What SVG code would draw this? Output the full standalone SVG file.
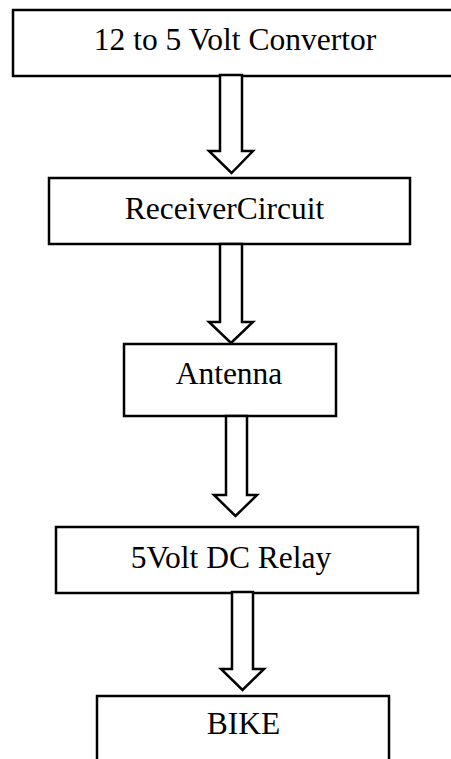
<svg xmlns="http://www.w3.org/2000/svg" width="451" height="759" viewBox="0 0 451 759">
<style>
.box{fill:#fff;stroke:#000;stroke-width:2.5}
.arr{fill:#fff;stroke:#000;stroke-width:2.5;stroke-linejoin:miter}
.lbl{font-family:"Liberation Serif","Times New Roman",serif;font-size:31.5px;fill:#000;text-anchor:middle}
</style>
<rect width="451" height="759" fill="#fff"/>
<g id="n1"><rect class="box" x="13" y="10" width="450" height="66"/><text class="lbl" x="235" y="50">12 to 5 Volt Convertor</text></g>
<g id="n2"><rect class="box" x="49" y="178" width="361" height="66"/><text class="lbl" x="224.5" y="219">ReceiverCircuit</text></g>
<g id="n3"><rect class="box" x="124" y="344" width="212" height="72"/><text class="lbl" x="229" y="384">Antenna</text></g>
<g id="n4"><rect class="box" x="56" y="527" width="362" height="66"/><text class="lbl" x="231" y="568">5Volt DC Relay</text></g>
<g id="n5"><rect class="box" x="97" y="696" width="292" height="80"/><text class="lbl" x="243.5" y="734">BIKE</text></g>
<g id="connectors">
<path class="arr" d="M220,75 H242 V151 H253 L231.5,173 L209,151 H220 Z"/>
<path class="arr" d="M220,244 H242 V322 H253 L231,343 L209,322 H220 Z"/>
<path class="arr" d="M226,416 H247 V495 H257 L235.5,516 L214,495 H226 Z"/>
<path class="arr" d="M232,592 H253 V669 H264 L242.5,690 L221,669 H232 Z"/>
</g>
</svg>
